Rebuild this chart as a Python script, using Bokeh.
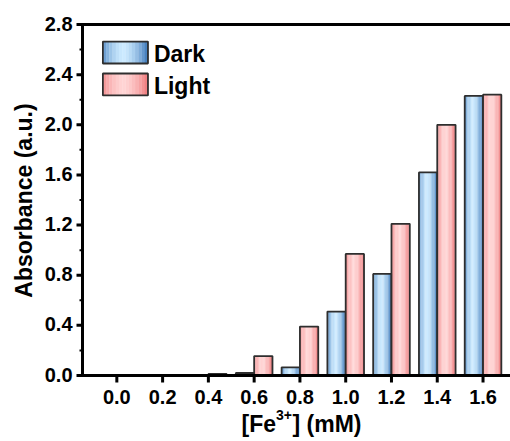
import math
from bokeh.plotting import figure
from bokeh.models import Label
from bokeh.core.properties import value
from bokeh.embed import file_html
from bokeh.resources import INLINE

# Fe3+ concentration (mM) and absorbance readings for each condition
conc = [0.0, 0.2, 0.4, 0.6, 0.8, 1.0, 1.2, 1.4, 1.6]
dark = [0.0, 0.0, 0.003, 0.02, 0.065, 0.51, 0.81, 1.62, 2.23]
light = [0.0, 0.0, 0.012, 0.155, 0.39, 0.97, 1.21, 2.00, 2.24]
x_ticks = [0.0, 0.2, 0.4, 0.6, 0.8, 1.0, 1.2, 1.4, 1.6]
x_tick_labels = ["0.0", "0.2", "0.4", "0.6", "0.8", "1.0", "1.2", "1.4", "1.6"]
y_ticks = [0.0, 0.4, 0.8, 1.2, 1.6, 2.0, 2.4, 2.8]
y_tick_labels = ["0.0", "0.4", "0.8", "1.2", "1.6", "2.0", "2.4", "2.8"]
y_minor = [0.2, 0.6, 1.0, 1.4, 1.8, 2.2, 2.6]

FONT = "Liberation Sans"
BAR_W = 0.08
N_STRIPS = 14

# page geometry: the plotting area spans the whole canvas and the axes are
# drawn inside it, so the axis titles can be placed freely
W, H = 510, 441
AX_LEFT, AX_TOP, AX_BOTTOM = 82, 24, 375     # axis box edges (px)
X0, X1 = -0.15, 1.72                          # data x at AX_LEFT and at W
Y0, Y1 = 0.0, 2.8                             # data y at AX_BOTTOM, AX_TOP
PX_X = (W - AX_LEFT) / (X1 - X0)
PX_Y = (AX_BOTTOM - AX_TOP) / (Y1 - Y0)


def xd(px):
    return X0 + (px - AX_LEFT) / PX_X


def yd(py):
    return Y0 + (AX_BOTTOM - py) / PX_Y


DARK_EDGE = (58, 118, 184)
DARK_MID = (204, 234, 255)
LIGHT_EDGE = (238, 120, 122)
LIGHT_MID = (255, 212, 212)


def mix(c0, c1, t):
    return "#%02x%02x%02x" % tuple(int(round(a + (b - a) * t)) for a, b in zip(c0, c1))


def strip_colors(edge, mid):
    cols = []
    for k in range(N_STRIPS):
        f = (k + 0.5) / N_STRIPS
        d = min(1.0, abs(f - 0.45) / 0.55)
        cols.append(mix(mid, edge, d ** 1.6))
    return cols


p = figure(width=W, height=H, x_range=(xd(0), xd(W)), y_range=(yd(H), yd(0)),
           output_backend="svg", toolbar_location=None,
           x_axis_location=None, y_axis_location=None,
           min_border_left=0, min_border_top=0, min_border_bottom=0,
           min_border_right=0)
p.outline_line_color = None
p.grid.visible = False
p.background_fill_color = "white"
p.border_fill_color = "white"


def gradient_bars(values, offset, edge, mid):
    cols = strip_colors(edge, mid)
    sw = BAR_W / N_STRIPS
    for k, c in enumerate(cols):
        xs = [x + offset - BAR_W / 2 + (k + 0.5) * sw for x in conc]
        p.vbar(x=xs, top=values, bottom=0, width=sw * 1.08,
               fill_color=c, line_color=None)
    p.vbar(x=[x + offset for x in conc], top=values, bottom=0, width=BAR_W,
           fill_color=None, line_color="#2e2e2e", line_width=1.8)


gradient_bars(dark, -BAR_W / 2, DARK_EDGE, DARK_MID)
gradient_bars(light, BAR_W / 2, LIGHT_EDGE, LIGHT_MID)

# legend swatches with the same horizontal gradient
LEG_X0, LEG_X1 = -0.061, 0.136


def swatch(y0, y1, edge, mid, text):
    cols = strip_colors(edge, mid)
    sw = (LEG_X1 - LEG_X0) / N_STRIPS
    lefts = [LEG_X0 + k * sw for k in range(N_STRIPS)]
    p.quad(left=lefts, right=[l + sw * 1.08 for l in lefts],
           bottom=[y0] * N_STRIPS, top=[y1] * N_STRIPS,
           fill_color=cols, line_color=None)
    p.quad(left=[LEG_X0], right=[LEG_X1], bottom=[y0], top=[y1],
           fill_color=None, line_color="#2e2e2e", line_width=1.8)
    p.add_layout(Label(x=LEG_X1 + 0.026, y=(y0 + y1) / 2 - 0.01, text=text,
                       text_font=FONT, text_font_style="bold",
                       text_font_size="23px", text_baseline="middle",
                       text_color="black"))


swatch(2.489, 2.664, DARK_EDGE, DARK_MID, "Dark")
swatch(2.234, 2.409, LIGHT_EDGE, LIGHT_MID, "Light")

# axis box: top, left and bottom edges (the right side runs off the page)
p.line(x=[xd(W + 5), X0, X0, xd(W + 5)], y=[Y1, Y1, Y0, Y0],
       line_color="black", line_width=3, line_join="miter")

# y axis ticks and labels
n_y = len(y_ticks)
p.segment(x0=[xd(AX_LEFT - 6)] * n_y, y0=y_ticks, x1=[X0] * n_y, y1=y_ticks,
          line_color="black", line_width=3)
p.segment(x0=[xd(AX_LEFT - 3)] * len(y_minor), y0=y_minor,
          x1=[X0] * len(y_minor), y1=y_minor, line_color="black", line_width=2)
p.text(x=[xd(72)] * n_y, y=y_ticks, text=y_tick_labels, y_offset=-1,
       text_font=value(FONT), text_font_style="bold", text_font_size="20px",
       text_align="right", text_baseline="middle", text_color="black")

# x axis ticks and labels
n_x = len(x_ticks)
p.segment(x0=x_ticks, y0=[Y0] * n_x, x1=x_ticks, y1=[yd(AX_BOTTOM + 7)] * n_x,
          line_color="black", line_width=3)
p.text(x=x_ticks, y=[yd(AX_BOTTOM + 21)] * n_x, text=x_tick_labels,
       text_font=value(FONT), text_font_style="bold", text_font_size="20px",
       text_align="center", text_baseline="alphabetic", text_color="black")

# x-axis title with a raised "3+"
tx, ty = xd(241), yd(AX_BOTTOM + 48)
title_kw = dict(text_font=value(FONT), text_font_style="bold",
                text_align="left", text_baseline="alphabetic",
                text_color="black")
p.text(x=[tx], y=[ty], text=["[Fe"], text_font_size="23px", **title_kw)
p.text(x=[tx], y=[ty], x_offset=34.5, y_offset=-9, text=["3+"],
       text_font_size="14px", **title_kw)
p.text(x=[tx], y=[ty], x_offset=51, text=["] (mM)"],
       text_font_size="23px", **title_kw)

# y-axis title, rotated
p.text(x=[xd(23)], y=[yd(200)], text=["Absorbance (a.u.)"], angle=math.pi / 2,
       text_font=value(FONT), text_font_style="bold", text_font_size="23px",
       text_align="center", text_baseline="middle", text_color="black")

open("out.html", "w").write(file_html(p, INLINE))
